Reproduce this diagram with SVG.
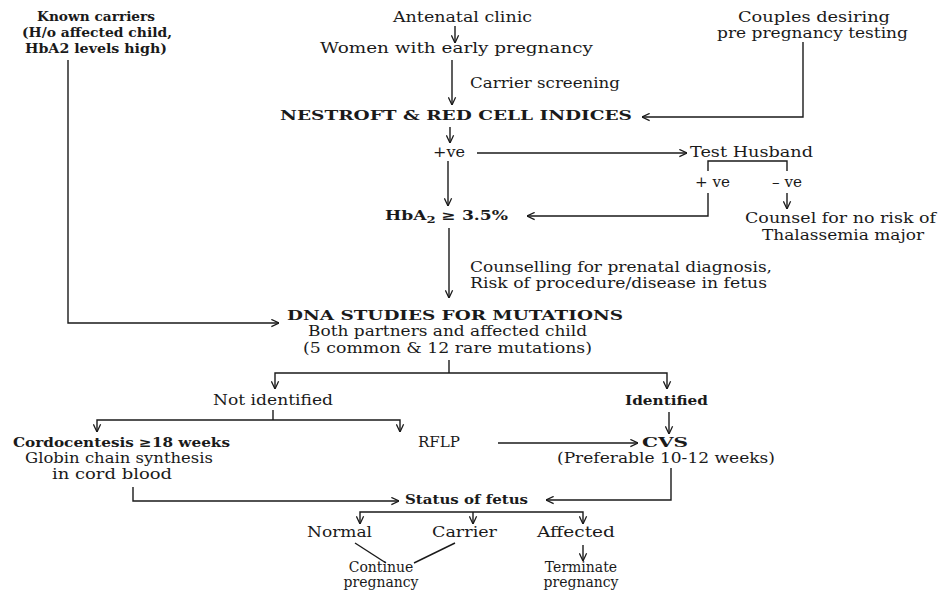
<svg xmlns="http://www.w3.org/2000/svg" width="943" height="592" viewBox="0 0 943 592">
<defs>
<marker id="ah" viewBox="0 0 10 10" refX="9.5" refY="5" markerWidth="9" markerHeight="9" markerUnits="userSpaceOnUse" orient="auto">
<path d="M1,1 L9.5,5 L1,9" fill="none" stroke="#1a1a1a" stroke-width="1.4"/>
</marker>
<style>
text{font-family:"DejaVu Serif","Liberation Serif",serif;font-size:14px;fill:#1a1a1a}
.b{font-weight:bold;font-size:13px}
.s{font-size:14px;text-anchor:middle}
.c path{fill:none;stroke:#1a1a1a;stroke-width:1.4}
.a{marker-end:url(#ah)}
</style>
</defs>
<rect width="943" height="592" fill="#ffffff"/>

<g id="known">
<text class="b" x="37" y="21" textLength="118" lengthAdjust="spacingAndGlyphs">Known carriers</text>
<text class="b" x="22" y="37" textLength="150" lengthAdjust="spacingAndGlyphs">(H/o affected child,</text>
<text class="b" x="25" y="53" textLength="142" lengthAdjust="spacingAndGlyphs">HbA2 levels high)</text>
</g>
<g id="antenatal"><text x="393" y="22" textLength="139" lengthAdjust="spacingAndGlyphs">Antenatal clinic</text></g>
<g id="women"><text x="320" y="53" textLength="273" lengthAdjust="spacingAndGlyphs">Women with early pregnancy</text></g>
<g id="screening"><text x="470" y="88" textLength="150" lengthAdjust="spacingAndGlyphs">Carrier screening</text></g>
<g id="couples">
<text x="738" y="22" textLength="152" lengthAdjust="spacingAndGlyphs">Couples desiring</text>
<text x="717" y="38" textLength="191" lengthAdjust="spacingAndGlyphs">pre pregnancy testing</text>
</g>
<g id="nestroft"><text class="b" x="280" y="120" textLength="352" lengthAdjust="spacingAndGlyphs">NESTROFT &amp; RED CELL INDICES</text></g>
<g id="pos1"><text x="433" y="157" textLength="32" lengthAdjust="spacingAndGlyphs">+ve</text></g>
<g id="husband"><text x="690" y="157" textLength="123" lengthAdjust="spacingAndGlyphs">Test Husband</text></g>
<g id="hpos"><text x="695" y="187" textLength="35" lengthAdjust="spacingAndGlyphs">+ ve</text></g>
<g id="hneg"><text x="772" y="187" textLength="30" lengthAdjust="spacingAndGlyphs">– ve</text></g>
<g id="counsel">
<text x="745" y="223" textLength="191" lengthAdjust="spacingAndGlyphs">Counsel for no risk of</text>
<text x="762" y="240" textLength="162" lengthAdjust="spacingAndGlyphs">Thalassemia major</text>
</g>
<g id="hba2"><text class="b" x="385" y="220" font-size="14" textLength="123" lengthAdjust="spacingAndGlyphs">HbA<tspan font-size="10" dy="3">2</tspan><tspan dy="-3"> ≥ 3.5%</tspan></text></g>
<g id="counselling">
<text x="470" y="272" textLength="302" lengthAdjust="spacingAndGlyphs">Counselling for prenatal diagnosis,</text>
<text x="470" y="288" textLength="297" lengthAdjust="spacingAndGlyphs">Risk of procedure/disease in fetus</text>
</g>
<g id="dna">
<text class="b" x="287" y="320" textLength="336" lengthAdjust="spacingAndGlyphs">DNA STUDIES FOR MUTATIONS</text>
<text x="308" y="336" textLength="279" lengthAdjust="spacingAndGlyphs">Both partners and affected child</text>
<text x="303" y="353" textLength="289" lengthAdjust="spacingAndGlyphs">(5 common &amp; 12 rare mutations)</text>
</g>
<g id="notid"><text x="213" y="405" textLength="120" lengthAdjust="spacingAndGlyphs">Not identified</text></g>
<g id="identified"><text class="b" x="625" y="405" textLength="83" lengthAdjust="spacingAndGlyphs">Identified</text></g>
<g id="cordo">
<text class="b" x="13" y="447" textLength="217" lengthAdjust="spacingAndGlyphs">Cordocentesis ≥18 weeks</text>
<text x="25" y="463" textLength="188" lengthAdjust="spacingAndGlyphs">Globin chain synthesis</text>
<text x="52" y="479" textLength="120" lengthAdjust="spacingAndGlyphs">in cord blood</text>
</g>
<g id="rflp"><text x="418" y="447" textLength="42" lengthAdjust="spacingAndGlyphs">RFLP</text></g>
<g id="cvs">
<text class="b" x="642" y="447" textLength="46" lengthAdjust="spacingAndGlyphs">CVS</text>
<text x="557" y="463" textLength="218" lengthAdjust="spacingAndGlyphs">(Preferable 10-12 weeks)</text>
</g>
<g id="status"><text class="b" x="405" y="504" textLength="123" lengthAdjust="spacingAndGlyphs">Status of fetus</text></g>
<g id="normal"><text x="307" y="537" textLength="65" lengthAdjust="spacingAndGlyphs">Normal</text></g>
<g id="carrier"><text x="432" y="537" textLength="65" lengthAdjust="spacingAndGlyphs">Carrier</text></g>
<g id="affected"><text x="537" y="537" textLength="78" lengthAdjust="spacingAndGlyphs">Affected</text></g>
<g id="continue">
<text class="s" x="381" y="572">Continue</text>
<text class="s" x="381" y="587">pregnancy</text>
</g>
<g id="terminate">
<text class="s" x="581" y="572">Terminate</text>
<text class="s" x="581" y="587">pregnancy</text>
</g>

<g id="connectors" class="c">
<path class="a" d="M455,26 V43"/>
<path class="a" d="M452,60 V105"/>
<path class="a" d="M803,42 V117 H642"/>
<path class="a" d="M450,127 V143"/>
<path class="a" d="M477,153 H687"/>
<path d="M708,171 V161 H787 V171"/>
<path class="a" d="M708,193 V216 H527"/>
<path class="a" d="M787,193 V209"/>
<path class="a" d="M448,161 V206"/>
<path class="a" d="M449,228 V298"/>
<path class="a" d="M68,60 V323 H279"/>
<path d="M449,360 V373"/>
<path class="a" d="M449,373 H275 V389"/>
<path class="a" d="M449,373 H667 V389"/>
<path d="M273,410 V420"/>
<path class="a" d="M273,420 H97 V432"/>
<path class="a" d="M273,420 H400 V432"/>
<path class="a" d="M669,412 V434"/>
<path class="a" d="M498,443 H638"/>
<path class="a" d="M671,468 V500 H546"/>
<path class="a" d="M133,487 V501 H399"/>
<path class="a" d="M466,512 H360 V524"/>
<path class="a" d="M466,512 H583 V524"/>
<path class="a" d="M473,512 V524"/>
<path d="M355,543 L386,563"/>
<path d="M455,543 L414,563"/>
<path class="a" d="M583,545 V561"/>
</g>
</svg>
